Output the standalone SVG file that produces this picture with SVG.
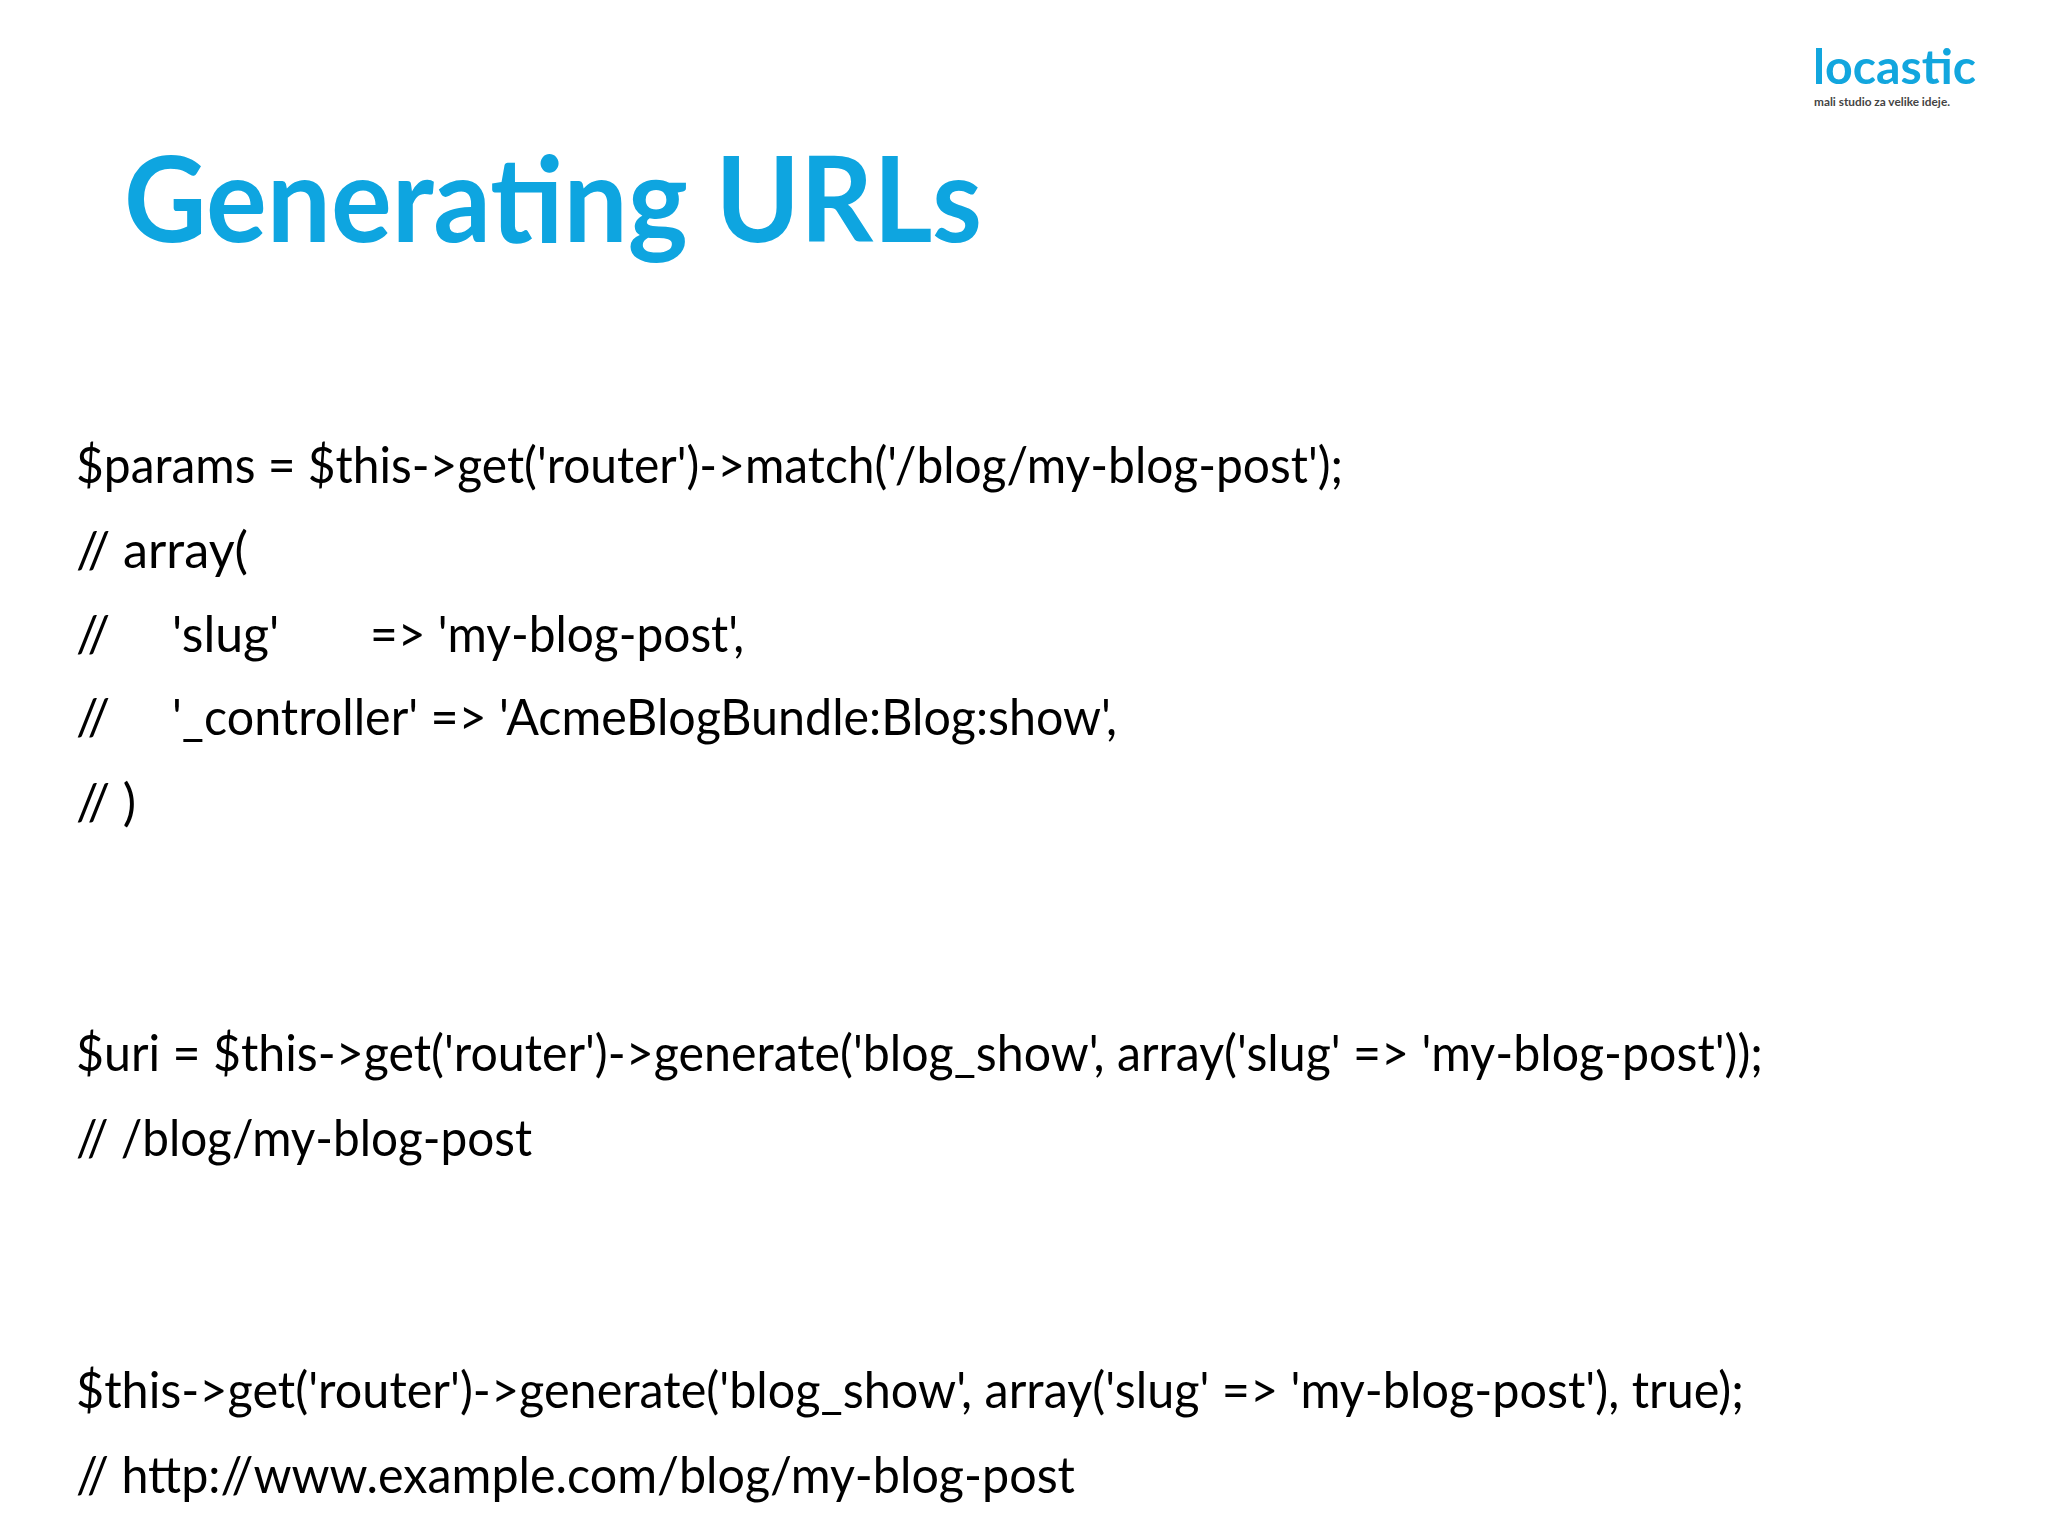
<svg xmlns="http://www.w3.org/2000/svg" width="2048" height="1536" viewBox="0 0 2048 1536">
<style>
.c{font-family:Lato,"Open Sans",sans-serif;font-size:50px;fill:#000}
.t{font-family:Lato,"Open Sans",sans-serif;font-weight:bold;font-size:118px;fill:#0ea5e0}
</style>
<rect width="2048" height="1536" fill="#fff"/>
<g id="logo">
<text x="1813" y="84" font-family="Lato,sans-serif" font-weight="bold" font-size="48" fill="#12a6de" textLength="163" lengthAdjust="spacingAndGlyphs">locastic</text>
<text x="1814" y="106" font-family="Lato,sans-serif" font-weight="bold" font-size="12" fill="#444" textLength="136" lengthAdjust="spacingAndGlyphs">mali studio za velike ideje.</text>
</g>
<g id="title"><text class="t" x="124" y="242" textLength="858" lengthAdjust="spacingAndGlyphs">Generating URLs</text></g>
<g id="code">
<text class="c" x="76" y="483" textLength="1267" lengthAdjust="spacingAndGlyphs">$params = $this-&gt;get('router')-&gt;match('/blog/my-blog-post');</text>
<text class="c" x="76" y="568" textLength="172" lengthAdjust="spacingAndGlyphs">// array(</text>
<text class="c" x="76" y="652">//</text>
<text class="c" x="172" y="652">'slug'</text>
<text class="c" x="370" y="652" textLength="374" lengthAdjust="spacingAndGlyphs">=&gt; 'my-blog-post',</text>
<text class="c" x="76" y="735">//</text>
<text class="c" x="172" y="735" textLength="945" lengthAdjust="spacingAndGlyphs">'_controller' =&gt; 'AcmeBlogBundle:Blog:show',</text>
<text class="c" x="76" y="820">// )</text>
<text class="c" x="76" y="1071" textLength="1687" lengthAdjust="spacingAndGlyphs">$uri = $this-&gt;get('router')-&gt;generate('blog_show', array('slug' =&gt; 'my-blog-post'));</text>
<text class="c" x="76" y="1156" textLength="456" lengthAdjust="spacingAndGlyphs">// /blog/my-blog-post</text>
<text class="c" x="76" y="1408" textLength="1668" lengthAdjust="spacingAndGlyphs">$this-&gt;get('router')-&gt;generate('blog_show', array('slug' =&gt; 'my-blog-post'), true);</text>
<text class="c" x="76" y="1493" textLength="999" lengthAdjust="spacingAndGlyphs">// http://www.example.com/blog/my-blog-post</text>
</g>
</svg>
